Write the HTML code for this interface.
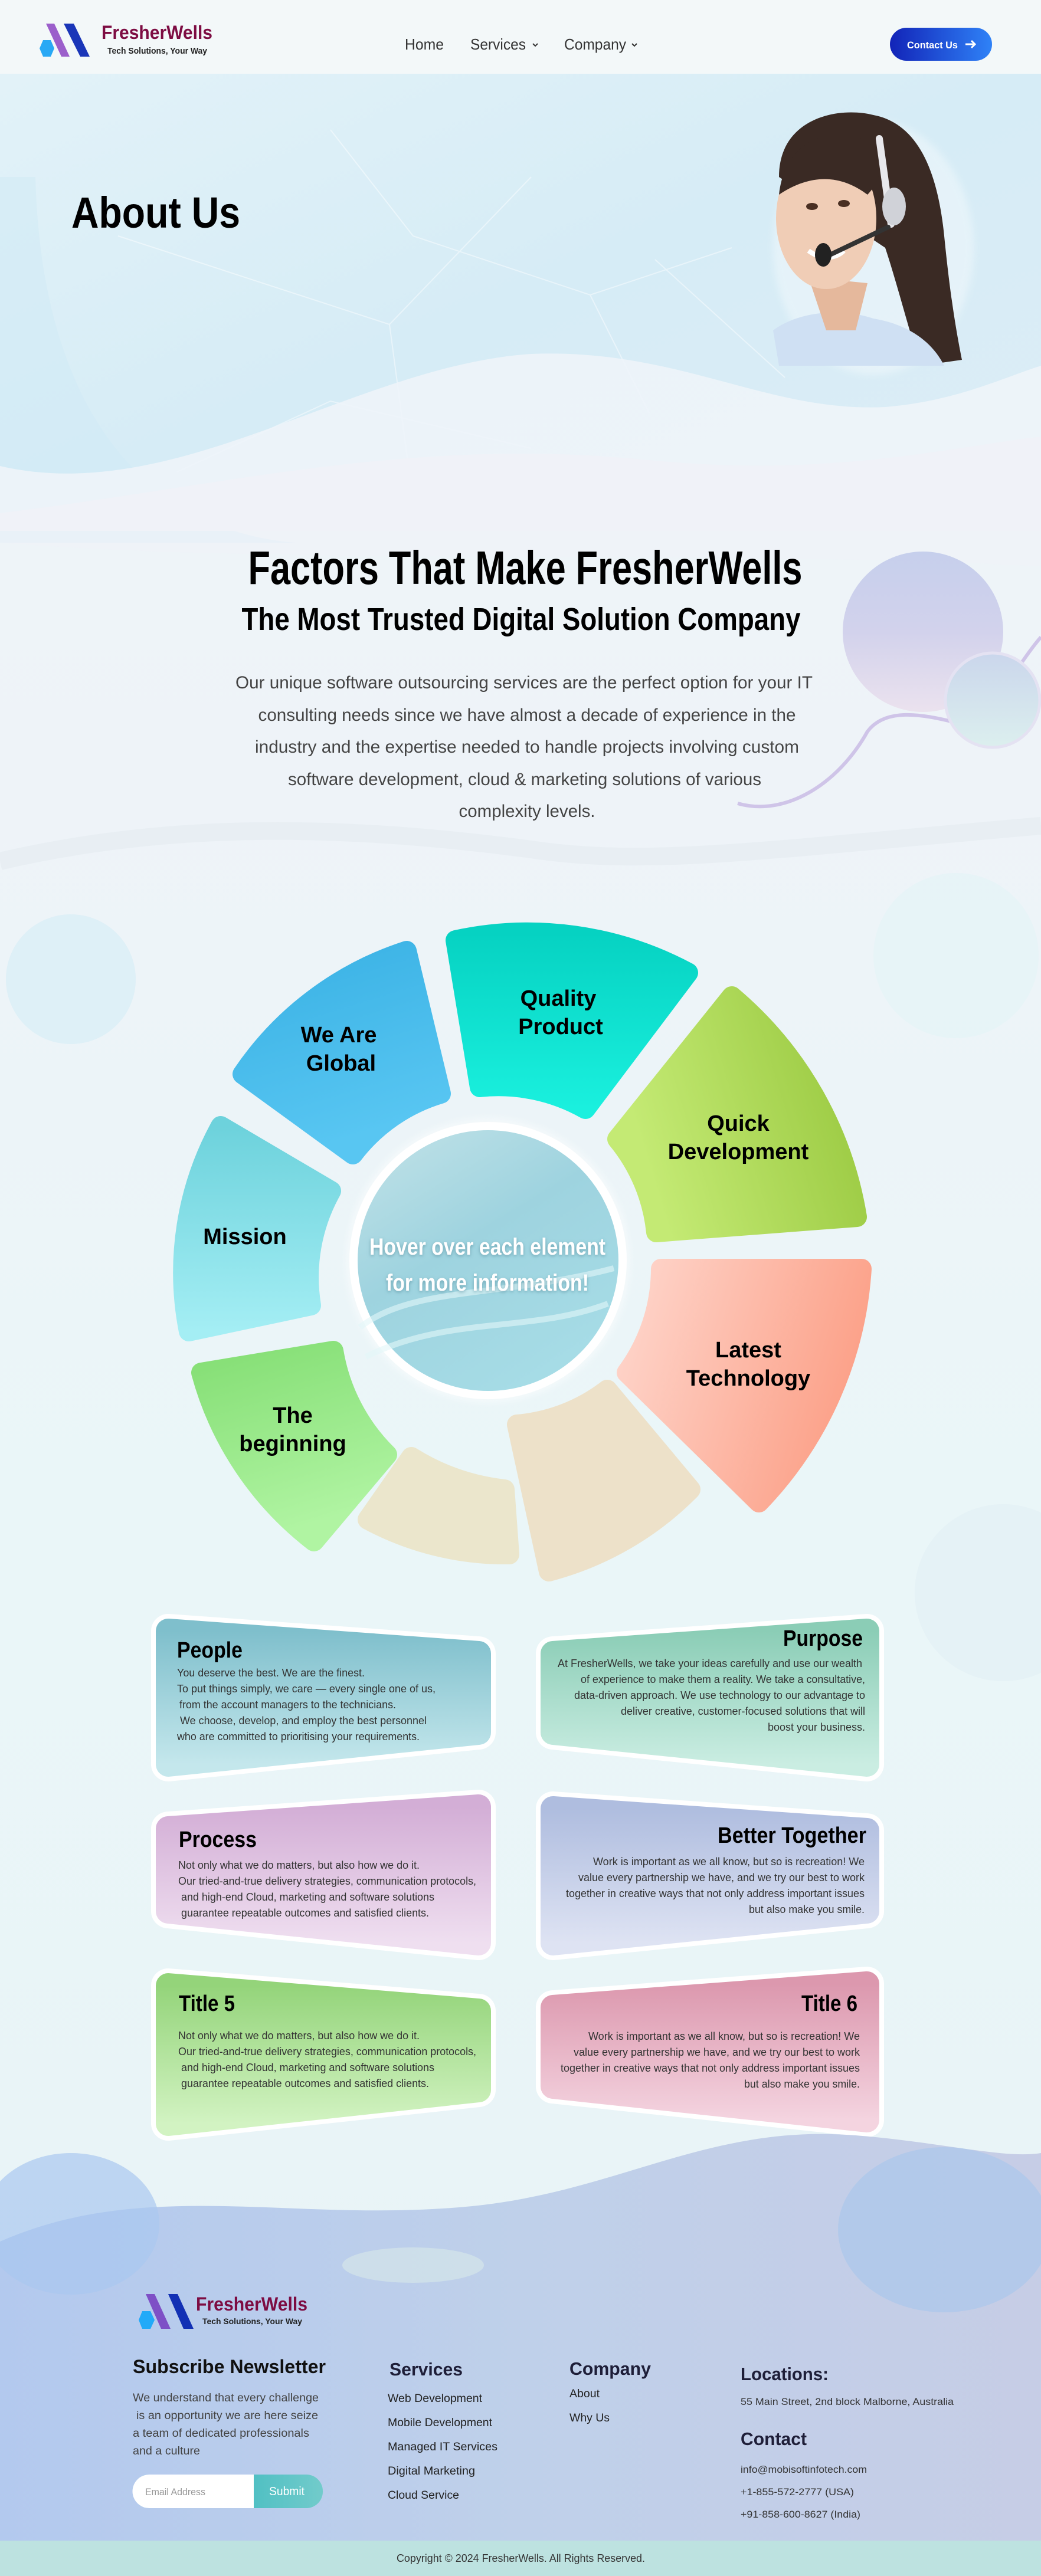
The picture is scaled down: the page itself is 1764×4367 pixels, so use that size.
<!DOCTYPE html>
<html><head><meta charset="utf-8">
<style>
html,body{margin:0;padding:0;}
body{width:1764px;height:4367px;overflow:hidden;background:#eef5f8;font-family:"Liberation Sans",sans-serif;}
svg{display:block;}
</style></head>
<body>
<svg width="1764" height="4367" viewBox="0 0 1764 4367" xmlns="http://www.w3.org/2000/svg" font-family="Liberation Sans, sans-serif">
<defs>
<linearGradient id="pg" x1="0" y1="0" x2="0" y2="1">
<stop offset="0" stop-color="#eef6f9"/><stop offset="0.3" stop-color="#eef3f8"/><stop offset="0.6" stop-color="#eaf6f8"/><stop offset="1" stop-color="#e8f3f6"/></linearGradient>
<linearGradient id="hero" x1="0" y1="0" x2="1" y2="1">
<stop offset="0" stop-color="#e2f2f8"/><stop offset="0.5" stop-color="#d6ecf6"/><stop offset="1" stop-color="#dcedf6"/></linearGradient>
<linearGradient id="bigc" x1="0" y1="0" x2="0" y2="1"><stop offset="0" stop-color="#c6cfec"/><stop offset="0.5" stop-color="#d2d2ec"/><stop offset="1" stop-color="#ebe2ee"/></linearGradient>
<linearGradient id="smc" x1="0" y1="0" x2="0" y2="1"><stop offset="0" stop-color="#cad6ec"/><stop offset="1" stop-color="#dcefee"/></linearGradient>
<linearGradient id="gBlue" x1="0" y1="0" x2="0.3" y2="1"><stop offset="0" stop-color="#39b1e4"/><stop offset="1" stop-color="#58c6f2"/></linearGradient>
<linearGradient id="gTeal" x1="0" y1="0" x2="0" y2="1"><stop offset="0" stop-color="#06d2c2"/><stop offset="1" stop-color="#1af0de"/></linearGradient>
<linearGradient id="gLime" x1="1" y1="0" x2="0" y2="0.3"><stop offset="0" stop-color="#96c63c"/><stop offset="1" stop-color="#c4ea74"/></linearGradient>
<linearGradient id="gSal" x1="0" y1="0" x2="1" y2="0.3"><stop offset="0" stop-color="#fed6cc"/><stop offset="1" stop-color="#fca28a"/></linearGradient>
<linearGradient id="gGreen" x1="0" y1="0" x2="0.3" y2="1"><stop offset="0" stop-color="#84de74"/><stop offset="1" stop-color="#b0f4a2"/></linearGradient>
<linearGradient id="gMis" x1="0" y1="0" x2="0" y2="1"><stop offset="0" stop-color="#6dd2dc"/><stop offset="1" stop-color="#a4eef4"/></linearGradient>
<linearGradient id="gCen" x1="0" y1="0" x2="0.6" y2="1"><stop offset="0" stop-color="#c4e3e8"/><stop offset="0.5" stop-color="#9ed3df"/><stop offset="1" stop-color="#a6dce6"/></linearGradient>
<linearGradient id="c1" x1="0" y1="0" x2="0" y2="1"><stop offset="0" stop-color="#7fbfcc"/><stop offset="1" stop-color="#c4e7ec"/></linearGradient>
<linearGradient id="c2" x1="0" y1="0" x2="0" y2="1"><stop offset="0" stop-color="#8bcdb6"/><stop offset="1" stop-color="#caede2"/></linearGradient>
<linearGradient id="c3" x1="0" y1="0" x2="0" y2="1"><stop offset="0" stop-color="#d3aed6"/><stop offset="1" stop-color="#efdff0"/></linearGradient>
<linearGradient id="c4" x1="0" y1="0" x2="0" y2="1"><stop offset="0" stop-color="#afbddf"/><stop offset="1" stop-color="#dee3f3"/></linearGradient>
<linearGradient id="c5" x1="0" y1="0" x2="0" y2="1"><stop offset="0" stop-color="#94d47a"/><stop offset="1" stop-color="#d2f3c2"/></linearGradient>
<linearGradient id="c6" x1="0" y1="0" x2="0" y2="1"><stop offset="0" stop-color="#dc98ae"/><stop offset="1" stop-color="#f4d4e0"/></linearGradient>
<linearGradient id="foot" x1="0" y1="0" x2="1" y2="0"><stop offset="0" stop-color="#b3c9ee"/><stop offset="0.5" stop-color="#bfd0ea"/><stop offset="1" stop-color="#c6cde6"/></linearGradient>
<linearGradient id="btn" x1="0" y1="0" x2="1" y2="0"><stop offset="0" stop-color="#1224b8"/><stop offset="1" stop-color="#2f82f7"/></linearGradient>
<linearGradient id="sub" x1="0" y1="0" x2="1" y2="0"><stop offset="0" stop-color="#16acb6"/><stop offset="1" stop-color="#72cbcb"/></linearGradient>
<filter id="sh"><feGaussianBlur stdDeviation="6"/></filter>
<filter id="tsh" x="-10%" y="-30%" width="120%" height="160%"><feDropShadow dx="0" dy="2" stdDeviation="3" flood-color="#4a8090" flood-opacity="0.6"/></filter>
</defs>

<rect width="1764" height="4367" fill="url(#pg)"/>
<rect x="0" y="125" width="1764" height="760" fill="url(#hero)"/>
<path d="M60,300 C70,700 250,900 500,920 L0,920 L0,300 Z" fill="#cfe9f6" opacity="0.5"/>
<g stroke="#ffffff" stroke-width="2" opacity="0.45" fill="none">
<path d="M200,400 L660,550 L700,850 M660,550 L900,300 M560,220 L700,400 L1000,500 L1240,420 M1000,500 L1100,700 M1110,440 L1330,640 M300,800 L560,680 L900,760"/>
</g>
<path d="M0,790 C300,860 600,620 900,600 C1150,590 1300,700 1500,690 C1620,680 1700,640 1764,620 L1764,900 L0,900 Z" fill="#eef4f9" opacity="0.9"/>
<path d="M0,870 C400,820 700,740 1100,780 C1400,810 1600,760 1764,740 L1764,900 L0,900 Z" fill="#f0f2f8"/>
<path d="M0,900 L1764,900 L1764,960 C1200,930 500,960 0,920 Z" fill="#f0f2f8" opacity="0.6"/>
<!-- woman -->
<g>
<ellipse cx="1480" cy="420" rx="170" ry="215" fill="#ffffff" opacity="0.35" filter="url(#sh)"/>
<path d="M1320,300 C1320,200 1420,180 1480,195 C1560,210 1590,300 1600,400 C1610,500 1620,560 1630,610 L1560,620 C1540,560 1520,480 1500,420 Z" fill="#3a2a24"/>
<path d="M1310,560 C1350,530 1420,520 1480,540 C1540,550 1580,580 1600,620 L1320,620 Z" fill="#cfe0f3"/>
<path d="M1370,470 L1400,560 L1450,560 L1470,480 Z" fill="#e5b89c"/>
<ellipse cx="1400" cy="370" rx="85" ry="120" fill="#f0cdb6"/>
<path d="M1320,330 C1330,240 1400,215 1460,235 C1500,250 1500,300 1470,330 C1430,300 1380,290 1320,330 Z" fill="#3a2a24"/>
<ellipse cx="1376" cy="350" rx="10" ry="6" fill="#4a2f22"/>
<ellipse cx="1430" cy="345" rx="10" ry="6" fill="#4a2f22"/>
<path d="M1370,425 C1390,440 1415,440 1430,425" stroke="#ffffff" stroke-width="8" fill="none"/>
<path d="M1490,235 L1510,380" stroke="#e8e8ec" stroke-width="12" stroke-linecap="round"/>
<ellipse cx="1515" cy="350" rx="20" ry="32" fill="#d0d2d8"/>
<path d="M1505,385 L1400,435" stroke="#333" stroke-width="8" stroke-linecap="round"/>
<ellipse cx="1395" cy="432" rx="14" ry="20" fill="#222"/>
</g>

<!-- nav -->
<rect x="0" y="0" width="1764" height="125" fill="#f2f8f9" opacity="0.95"/>
<polygon points="78,40 92,40 118,96 104,96" fill="#9b5fcb"/>
<polygon points="108,40 125,40 152,96 136,96" fill="#1a36b8"/>
<polygon points="73,68 86,68 92,82 86,96 73,96 67,82" fill="#29a9f5"/>
<text x="172" y="66" font-size="32" font-weight="bold" fill="#7d0c42" textLength="188" lengthAdjust="spacingAndGlyphs">FresherWells</text>
<text x="182" y="91" font-size="15" font-weight="bold" fill="#222" textLength="169" lengthAdjust="spacingAndGlyphs">Tech Solutions, Your Way</text>
<text x="686" y="84" font-size="26" fill="#333" textLength="66" lengthAdjust="spacingAndGlyphs">Home</text>
<text x="797" y="84" font-size="26" fill="#333" textLength="94" lengthAdjust="spacingAndGlyphs">Services</text>
<path d="M903,74 l4,4 l4,-4" stroke="#333" stroke-width="2" fill="none"/>
<text x="956" y="84" font-size="26" fill="#333" textLength="105" lengthAdjust="spacingAndGlyphs">Company</text>
<path d="M1071,74 l4,4 l4,-4" stroke="#333" stroke-width="2" fill="none"/>
<rect x="1508" y="47" width="173" height="56" rx="28" fill="url(#btn)"/>
<text x="1537" y="82" font-size="17" font-weight="bold" fill="#fff" textLength="86" lengthAdjust="spacingAndGlyphs">Contact Us</text>
<path d="M1636,75 h16 m-6,-6 l6,6 l-6,6" stroke="#fff" stroke-width="3" fill="none"/>

<text x="121" y="386" font-size="74" font-weight="bold" fill="#000" textLength="286" lengthAdjust="spacingAndGlyphs">About Us</text>

<!-- section 2 -->
<circle cx="1564" cy="1071" r="136" fill="url(#bigc)"/>
<path d="M1250,1362 C1330,1385 1420,1330 1470,1240 C1500,1200 1560,1210 1620,1225" stroke="#cfc4e8" stroke-width="6" fill="none"/>
<path d="M1720,1140 C1740,1110 1755,1090 1764,1080" stroke="#cfc4e8" stroke-width="6" fill="none"/>
<circle cx="1682" cy="1187" r="80" fill="url(#smc)" stroke="#e4e2f2" stroke-width="5"/>
<path d="M0,1460 C300,1390 600,1400 900,1440 C1100,1470 1300,1440 1764,1400" stroke="#e6ecf1" stroke-width="30" fill="none" opacity="0.8"/>

<text x="890" y="990" text-anchor="middle" font-size="80" font-weight="bold" fill="#000" textLength="939" lengthAdjust="spacingAndGlyphs">Factors That Make FresherWells</text>
<text x="883" y="1068" text-anchor="middle" font-size="54" font-weight="bold" fill="#000" textLength="947" lengthAdjust="spacingAndGlyphs">The Most Trusted Digital Solution Company</text>
<g font-size="30" fill="#444" text-anchor="middle">
<text x="888" y="1167" textLength="978" lengthAdjust="spacingAndGlyphs">Our unique software outsourcing services are the perfect option for your IT</text>
<text x="893" y="1222" textLength="911" lengthAdjust="spacingAndGlyphs">consulting needs since we have almost a decade of experience in the</text>
<text x="893" y="1276" textLength="922" lengthAdjust="spacingAndGlyphs">industry and the expertise needed to handle projects involving custom</text>
<text x="889" y="1331" textLength="802" lengthAdjust="spacingAndGlyphs">software development, cloud &amp; marketing solutions of various</text>
<text x="893" y="1385" textLength="231" lengthAdjust="spacingAndGlyphs">complexity levels.</text>
</g>

<circle cx="120" cy="1660" r="110" fill="#d4ecf6" opacity="0.6"/>
<circle cx="1620" cy="1620" r="140" fill="#e3f3f6" opacity="0.6"/>
<circle cx="1700" cy="2700" r="150" fill="#dfeef4" opacity="0.5"/>

<!-- wheel -->
<g stroke-linejoin="round" stroke-width="34">
<path d="M411,1821 A535,535 0 0 1 689,1612 L747,1854 A292,292 0 0 0 598,1957 Z" fill="url(#gBlue)" stroke="url(#gBlue)"/>
<path d="M772,1594 A575,575 0 0 1 1166,1649 L992,1880 A300,300 0 0 0 813,1843 Z" fill="url(#gTeal)" stroke="url(#gTeal)"/>
<path d="M1240,1689 A620,620 0 0 1 1452,2063 L1112,2089 A295,295 0 0 0 1046,1931 Z" fill="url(#gLime)" stroke="url(#gLime)"/>
<path d="M1460,2151 A630,630 0 0 1 1286,2547 L1062,2327 A298,298 0 0 0 1120,2151 Z" fill="url(#gSal)" stroke="url(#gSal)"/>
<path d="M1170,2525 A525,525 0 0 1 930,2664 L876,2415 A290,290 0 0 0 1029,2356 Z" fill="#ede1c9" stroke="#ede1c9"/>
<path d="M863,2635 A490,490 0 0 1 623,2576 L697,2470 A375,375 0 0 0 855,2525 Z" fill="#ebe6cc" stroke="#ebe6cc"/>
<path d="M532,2613 A540,540 0 0 1 341,2327 L565,2290 A320,320 0 0 0 656,2466 Z" fill="url(#gGreen)" stroke="url(#gGreen)"/>
<path d="M320,2257 A515,515 0 0 1 374,1909 L561,2019 A300,300 0 0 0 527,2213 Z" fill="url(#gMis)" stroke="url(#gMis)"/>
</g>
<circle cx="827" cy="2137" r="240" fill="#ffffff" opacity="0.5" filter="url(#sh)"/>
<circle cx="827" cy="2137" r="228" fill="url(#gCen)" stroke="#ffffff" stroke-width="14"/>
<path d="M610,2250 C700,2180 850,2200 1040,2150 M620,2300 C760,2230 900,2260 1030,2210" stroke="#e2f6f8" stroke-width="10" fill="none" opacity="0.6"/>
<g font-size="38" font-weight="bold" fill="#000" text-anchor="middle">
<text x="574" y="1767">We Are</text><text x="578" y="1815">Global</text>
<text x="946" y="1705">Quality</text><text x="950" y="1753">Product</text>
<text x="1251" y="1917">Quick</text><text x="1251" y="1965">Development</text>
<text x="1268" y="2301">Latest</text><text x="1268" y="2349">Technology</text>
<text x="415" y="2109">Mission</text>
<text x="496" y="2412">The</text><text x="496" y="2460">beginning</text>
</g>
<g font-size="40" font-weight="bold" fill="#fff" text-anchor="middle" filter="url(#tsh)">
<text x="826" y="2127" textLength="400" lengthAdjust="spacingAndGlyphs">Hover over each element</text>
<text x="826" y="2188" textLength="344" lengthAdjust="spacingAndGlyphs">for more information!</text>
</g>

<!-- cards -->
<g stroke="#ffffff" stroke-width="58" stroke-linejoin="round" fill="#fff">
<polygon points="285,2765 811,2803 811,2937 285,2991"/>
<polygon points="937,2803 1469,2765 1469,2991 937,2937"/>
<polygon points="285,3100 811,3063 811,3294 285,3240"/>
<polygon points="937,3066 1469,3103 1469,3240 937,3294"/>
<polygon points="285,3366 811,3409 811,3543 285,3600"/>
<polygon points="937,3403 1469,3363 1469,3594 937,3537"/>
</g>
<g stroke-width="42" stroke-linejoin="round">
<polygon points="285,2765 811,2803 811,2937 285,2991" fill="url(#c1)" stroke="url(#c1)"/>
<polygon points="937,2803 1469,2765 1469,2991 937,2937" fill="url(#c2)" stroke="url(#c2)"/>
<polygon points="285,3100 811,3063 811,3294 285,3240" fill="url(#c3)" stroke="url(#c3)"/>
<polygon points="937,3066 1469,3103 1469,3240 937,3294" fill="url(#c4)" stroke="url(#c4)"/>
<polygon points="285,3366 811,3409 811,3543 285,3600" fill="url(#c5)" stroke="url(#c5)"/>
<polygon points="937,3403 1469,3363 1469,3594 937,3537" fill="url(#c6)" stroke="url(#c6)"/>
</g>
<g font-size="38" font-weight="bold" fill="#000">
<text x="300" y="2810" textLength="111" lengthAdjust="spacingAndGlyphs">People</text>
<text x="1462" y="2790" text-anchor="end" textLength="135" lengthAdjust="spacingAndGlyphs">Purpose</text>
<text x="303" y="3131" textLength="132" lengthAdjust="spacingAndGlyphs">Process</text>
<text x="1468" y="3124" text-anchor="end" textLength="252" lengthAdjust="spacingAndGlyphs">Better Together</text>
<text x="303" y="3409" textLength="95" lengthAdjust="spacingAndGlyphs">Title 5</text>
<text x="1453" y="3409" text-anchor="end" textLength="95" lengthAdjust="spacingAndGlyphs">Title 6</text>
</g>
<g font-size="18" fill="#333">
<text x="300" y="2842" textLength="318" lengthAdjust="spacingAndGlyphs">You deserve the best. We are the finest.</text>
<text x="300" y="2869" textLength="438" lengthAdjust="spacingAndGlyphs">To put things simply, we care — every single one of us,</text>
<text x="304" y="2896" textLength="367" lengthAdjust="spacingAndGlyphs">from the account managers to the technicians.</text>
<text x="305" y="2923" textLength="418" lengthAdjust="spacingAndGlyphs">We choose, develop, and employ the best personnel</text>
<text x="300" y="2950" textLength="411" lengthAdjust="spacingAndGlyphs">who are committed to prioritising your requirements.</text>

<text x="1461" y="2826" text-anchor="end" textLength="516" lengthAdjust="spacingAndGlyphs">At FresherWells, we take your ideas carefully and use our wealth</text>
<text x="1466" y="2853" text-anchor="end" textLength="482" lengthAdjust="spacingAndGlyphs">of experience to make them a reality. We take a consultative,</text>
<text x="1466" y="2880" text-anchor="end" textLength="493" lengthAdjust="spacingAndGlyphs">data-driven approach. We use technology to our advantage to</text>
<text x="1466" y="2907" text-anchor="end" textLength="414" lengthAdjust="spacingAndGlyphs">deliver creative, customer-focused solutions that will</text>
<text x="1466" y="2934" text-anchor="end" textLength="165" lengthAdjust="spacingAndGlyphs">boost your business.</text>

<text x="302" y="3168" textLength="409" lengthAdjust="spacingAndGlyphs">Not only what we do matters, but also how we do it.</text>
<text x="302" y="3195" textLength="505" lengthAdjust="spacingAndGlyphs">Our tried-and-true delivery strategies, communication protocols,</text>
<text x="307" y="3222" textLength="429" lengthAdjust="spacingAndGlyphs">and high-end Cloud, marketing and software solutions</text>
<text x="307" y="3249" textLength="420" lengthAdjust="spacingAndGlyphs">guarantee repeatable outcomes and satisfied clients.</text>

<text x="1465" y="3162" text-anchor="end" textLength="460" lengthAdjust="spacingAndGlyphs">Work is important as we all know, but so is recreation! We</text>
<text x="1465" y="3189" text-anchor="end" textLength="485" lengthAdjust="spacingAndGlyphs">value every partnership we have, and we try our best to work</text>
<text x="1465" y="3216" text-anchor="end" textLength="506" lengthAdjust="spacingAndGlyphs">together in creative ways that not only address important issues</text>
<text x="1465" y="3243" text-anchor="end" textLength="196" lengthAdjust="spacingAndGlyphs">but also make you smile.</text>

<text x="302" y="3457" textLength="409" lengthAdjust="spacingAndGlyphs">Not only what we do matters, but also how we do it.</text>
<text x="302" y="3484" textLength="505" lengthAdjust="spacingAndGlyphs">Our tried-and-true delivery strategies, communication protocols,</text>
<text x="307" y="3511" textLength="429" lengthAdjust="spacingAndGlyphs">and high-end Cloud, marketing and software solutions</text>
<text x="307" y="3538" textLength="420" lengthAdjust="spacingAndGlyphs">guarantee repeatable outcomes and satisfied clients.</text>

<text x="1457" y="3458" text-anchor="end" textLength="460" lengthAdjust="spacingAndGlyphs">Work is important as we all know, but so is recreation! We</text>
<text x="1457" y="3485" text-anchor="end" textLength="485" lengthAdjust="spacingAndGlyphs">value every partnership we have, and we try our best to work</text>
<text x="1457" y="3512" text-anchor="end" textLength="507" lengthAdjust="spacingAndGlyphs">together in creative ways that not only address important issues</text>
<text x="1457" y="3539" text-anchor="end" textLength="196" lengthAdjust="spacingAndGlyphs">but also make you smile.</text>
</g>

<!-- footer -->
<path d="M0,3800 C250,3690 500,3770 800,3740 C1050,3715 1200,3600 1450,3620 C1600,3632 1700,3660 1764,3650 L1764,4307 L0,4307 Z" fill="url(#foot)"/>
<ellipse cx="120" cy="3770" rx="150" ry="120" fill="#a9c8ef" opacity="0.7"/>
<ellipse cx="1600" cy="3780" rx="180" ry="140" fill="#a7c6ec" opacity="0.6"/>
<ellipse cx="700" cy="3840" rx="120" ry="30" fill="#d4e6ea" opacity="0.7"/>
<rect x="0" y="4307" width="1764" height="60" fill="#bde2e0"/>

<polygon points="247,3889 262,3889 289,3948 273,3948" fill="#7e50c6"/>
<polygon points="285,3889 301,3889 328,3948 311,3948" fill="#1230b4"/>
<polygon points="241,3918 255,3918 262,3933 255,3948 241,3948 235,3933" fill="#22aaf8"/>
<text x="332" y="3917" font-size="32" font-weight="bold" fill="#7d0c42" textLength="189" lengthAdjust="spacingAndGlyphs">FresherWells</text>
<text x="343" y="3940" font-size="14" font-weight="bold" fill="#222" textLength="169" lengthAdjust="spacingAndGlyphs">Tech Solutions, Your Way</text>

<text x="225" y="4023" font-size="32" font-weight="bold" fill="#111" textLength="327" lengthAdjust="spacingAndGlyphs">Subscribe Newsletter</text>
<g font-size="19" fill="#444">
<text x="225" y="4071" textLength="315" lengthAdjust="spacingAndGlyphs">We understand that every challenge</text>
<text x="231" y="4101" textLength="308" lengthAdjust="spacingAndGlyphs">is an opportunity we are here seize</text>
<text x="225" y="4131" textLength="299" lengthAdjust="spacingAndGlyphs">a team of dedicated professionals</text>
<text x="225" y="4161" textLength="114" lengthAdjust="spacingAndGlyphs">and a culture</text>
</g>
<rect x="225" y="4195" width="322" height="57" rx="28" fill="url(#sub)"/>
<path d="M253,4195 L430,4195 L430,4252 L253,4252 A28,28 0 0 1 253,4195 Z" fill="#ffffff"/>
<text x="246" y="4230" font-size="17" fill="#999" textLength="102" lengthAdjust="spacingAndGlyphs">Email Address</text>
<text x="456" y="4230" font-size="20" fill="#fff" textLength="60" lengthAdjust="spacingAndGlyphs">Submit</text>

<g fill="#1e1e38">
<text x="660" y="4027" font-size="31" font-weight="bold" textLength="124" lengthAdjust="spacingAndGlyphs">Services</text>
<text x="965" y="4026" font-size="31" font-weight="bold" textLength="138" lengthAdjust="spacingAndGlyphs">Company</text>
<text x="1255" y="4035" font-size="31" font-weight="bold" textLength="149" lengthAdjust="spacingAndGlyphs">Locations:</text>
<text x="1255" y="4145" font-size="31" font-weight="bold" textLength="112" lengthAdjust="spacingAndGlyphs">Contact</text>
</g>
<g font-size="19" fill="#222">
<text x="657" y="4072" textLength="160" lengthAdjust="spacingAndGlyphs">Web Development</text>
<text x="657" y="4113" textLength="177" lengthAdjust="spacingAndGlyphs">Mobile Development</text>
<text x="657" y="4154" textLength="186" lengthAdjust="spacingAndGlyphs">Managed IT Services</text>
<text x="657" y="4195" textLength="148" lengthAdjust="spacingAndGlyphs">Digital Marketing</text>
<text x="657" y="4236" textLength="121" lengthAdjust="spacingAndGlyphs">Cloud Service</text>
<text x="965" y="4064" textLength="51" lengthAdjust="spacingAndGlyphs">About</text>
<text x="965" y="4105" textLength="68" lengthAdjust="spacingAndGlyphs">Why Us</text>
</g>
<g font-size="17" fill="#333">
<text x="1255" y="4077" textLength="361" lengthAdjust="spacingAndGlyphs">55 Main Street, 2nd block Malborne, Australia</text>
<text x="1255" y="4192" textLength="214" lengthAdjust="spacingAndGlyphs">info@mobisoftinfotech.com</text>
<text x="1255" y="4230" textLength="192" lengthAdjust="spacingAndGlyphs">+1-855-572-2777 (USA)</text>
<text x="1255" y="4268" textLength="203" lengthAdjust="spacingAndGlyphs">+91-858-600-8627 (India)</text>
</g>
<text x="672" y="4343" font-size="18" fill="#333" textLength="421" lengthAdjust="spacingAndGlyphs">Copyright © 2024 FresherWells. All Rights Reserved.</text>
</svg>
</body></html>
